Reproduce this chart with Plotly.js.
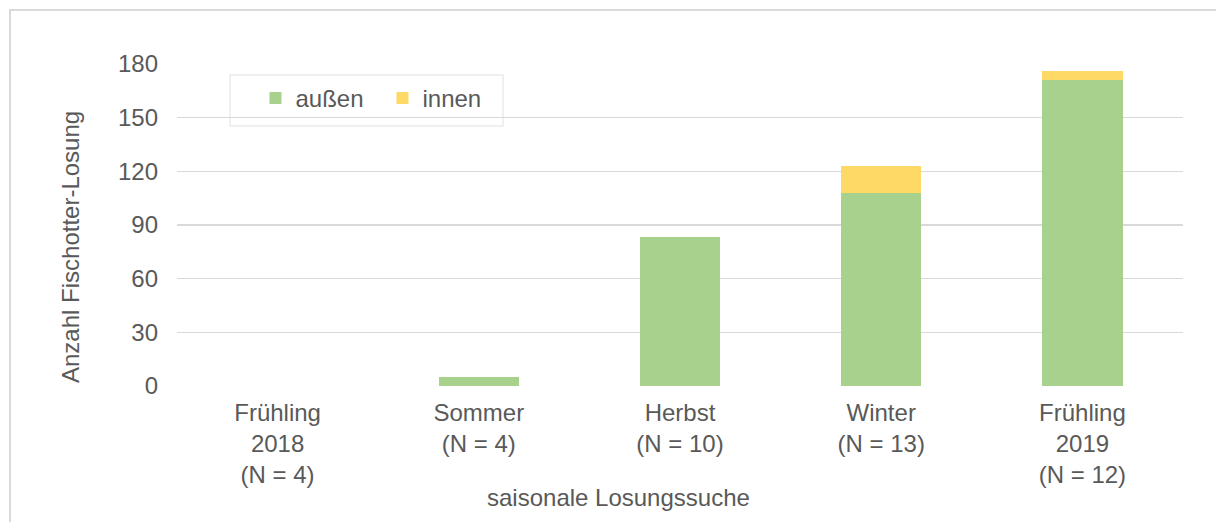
<!DOCTYPE html>
<html>
<head>
<meta charset="utf-8">
<script src="https://cdn.plot.ly/plotly-3.0.1.min.js"></script>
<style>
html,body{margin:0;padding:0;background:#fff;overflow:hidden;}
#chart{position:absolute;left:0;top:0;width:1216px;height:522px;}
#frame{position:absolute;left:9px;top:9px;width:1300px;height:600px;border-left:2px solid #d9d9d9;border-top:2px solid #d9d9d9;pointer-events:none;}
</style>
</head>
<body>
<div id="chart"></div>
<div id="frame"></div>
<script>
const categories = ["Frühling<br>2018<br>(N = 4)", "Sommer<br>(N = 4)", "Herbst<br>(N = 10)", "Winter<br>(N = 13)", "Frühling<br>2019<br>(N = 12)"];
const aussen = [0, 5, 83, 108, 171];
const innen = [0, 0, 0, 15, 5];
const seriesNames = ["außen", "innen"];
const yTickVals = [0, 30, 60, 90, 120, 150, 180];

const FONT = "Liberation Sans, Arial, sans-serif";
const TXT = "#595959";
const FS = 24;

const traces = [
  {type: "bar", name: seriesNames[0], x: categories, y: aussen, marker: {color: "#A9D18E"}, hoverinfo: "y"},
  {type: "bar", name: seriesNames[1], x: categories, y: innen, marker: {color: "#FFD966"}, hoverinfo: "y"}
];

const layout = {
  width: 1216, height: 522,
  margin: {l: 177, r: 33, t: 63, b: 136},
  barmode: "stack",
  bargap: 0.6,
  paper_bgcolor: "#fff",
  plot_bgcolor: "#fff",
  font: {family: FONT, size: FS, color: TXT},
  xaxis: {
    type: "category",
    showgrid: false, showline: false, zeroline: false, ticks: "",
    tickfont: {family: FONT, size: FS, color: TXT},
    ticklabelstandoff: 10
  },
  yaxis: {
    range: [0, 180.5],
    tickvals: yTickVals,
    showgrid: true, gridcolor: "#d9d9d9", gridwidth: 1.5,
    showline: false, zeroline: false, ticks: "",
    tickfont: {family: FONT, size: FS, color: TXT},
    ticklabelstandoff: 18
  },
  legend: {
    orientation: "h",
    x: 0.078, y: 0.96, xanchor: "left", yanchor: "top",
    bgcolor: "rgba(0,0,0,0)", borderwidth: 0,
    font: {family: FONT, size: FS, color: TXT},
    traceorder: "normal",
    entrywidth: 82
  },
  shapes: [
    {type: "rect", xref: "paper", yref: "paper",
     x0: (230 - 177) / 1006, x1: (503 - 177) / 1006,
     y0: (386 - 126) / 323, y1: (386 - 75) / 323,
     line: {color: "#ececec", width: 1.5}, fillcolor: "#fff", layer: "below"}
  ],
  annotations: [
    {text: "Anzahl Fischotter-Losung", xref: "paper", yref: "paper",
     x: (70 - 177) / 1006, y: (386 - 247) / 323, textangle: -90,
     showarrow: false, xanchor: "center", yanchor: "middle",
     font: {family: FONT, size: FS, color: TXT}},
    {text: "saisonale Losungssuche", xref: "paper", yref: "paper",
     x: (618 - 177) / 1006, y: (386 - 497) / 323,
     showarrow: false, xanchor: "center", yanchor: "middle",
     font: {family: FONT, size: FS, color: TXT}}
  ]
};

Plotly.newPlot("chart", traces, layout, {displayModeBar: false, staticPlot: true});
</script>
</body>
</html>
